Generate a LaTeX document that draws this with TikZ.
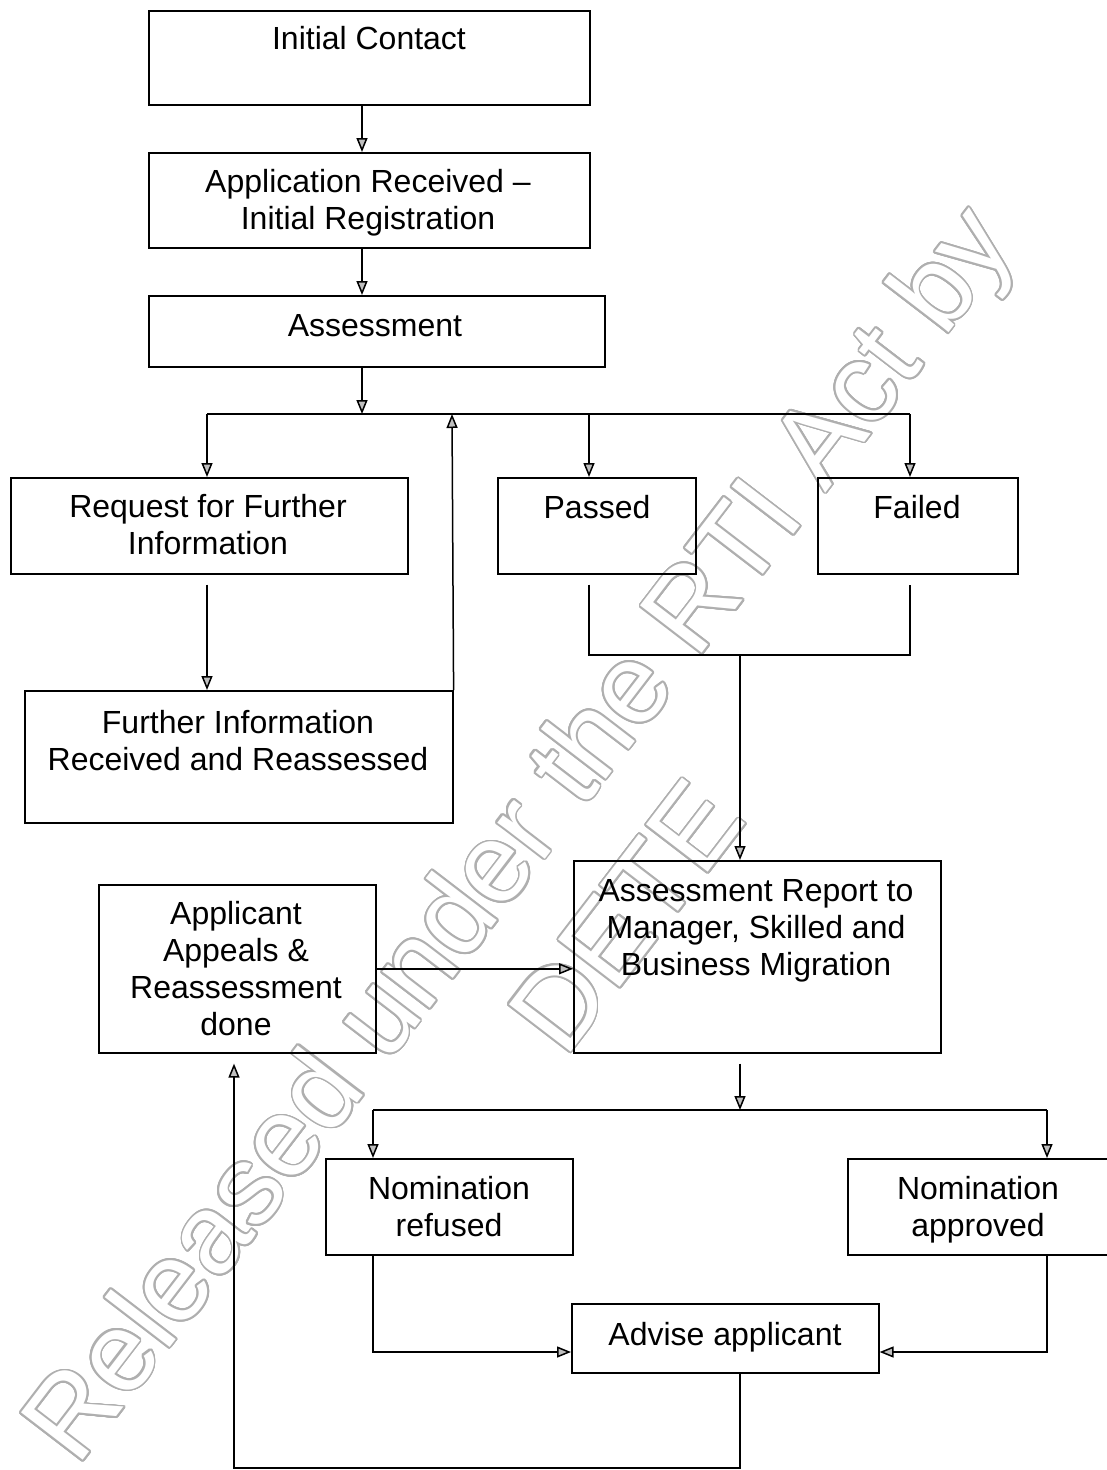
\documentclass[tikz,border=0pt]{standalone}
\usepackage{fontspec}
\setmainfont{Liberation Sans}
\usetikzlibrary{arrows.meta,calc}
\definecolor{wmgray}{RGB}{175,175,175}
\begin{document}
\begin{tikzpicture}[x=1pt,y=-1pt,
  box/.style={draw, line width=1.6pt, inner sep=0pt, anchor=north west},
  txt/.style={font=\fontsize{32}{36.8}\selectfont, align=center, inner sep=0pt, text height=23pt, text depth=7pt},
  ln/.style={line width=1.5pt},
  arr/.style={line width=1.5pt, -{Triangle[length=14pt,width=11pt,fill=gray!50]}},
  wm/.style={rotate=52.5, inner sep=0pt, font=\fontsize{113}{113}\selectfont}]
\useasboundingbox (0,0) rectangle (1107,1470);
% watermark (outlined text: gray copies around, white on top)
\coordinate (w1) at (524,838);
\coordinate (w2) at (626,916);
\foreach \a in {0,15,...,345} {
  \node[wm, text=wmgray] at ($(w1)+(\a:1.8pt)$) {Released under the RTI Act by};
  \node[wm, text=wmgray] at ($(w2)+(\a:1.8pt)$) {DETE};
}
\node[wm, text=white] (wm1) at (w1) {Released under the RTI Act by};
\node[wm, text=white] (wm2) at (w2) {DETE};
% boxes
\node[box, minimum width=441pt, minimum height=94pt] (ic) at (148,10) {};
\node[box, minimum width=441pt, minimum height=95pt] (ar) at (148,152) {};
\node[box, minimum width=456pt, minimum height=71pt] (as) at (148,295) {};
\node[box, minimum width=397pt, minimum height=96pt] (rq) at (10,477) {};
\node[box, minimum width=428pt, minimum height=132pt] (fi) at (24,690) {};
\node[box, minimum width=198pt, minimum height=96pt] (pa) at (497,477) {};
\node[box, minimum width=200pt, minimum height=96pt] (fa) at (817,477) {};
\node[box, minimum width=367pt, minimum height=192pt] (rp) at (573,860) {};
\node[box, minimum width=277pt, minimum height=168pt] (ap) at (98,884) {};
\node[box, minimum width=247pt, minimum height=96pt] (nr) at (325,1158) {};
\node[box, minimum width=260pt, minimum height=96pt] (na) at (847,1158) {};
\node[box, minimum width=307pt, minimum height=69pt] (ad) at (571,1303) {};
% texts
\node[txt] (ict) at (369,41) {Initial Contact};
\node[txt] (art) at (368,221) {Application Received --\\Initial Registration};
\node[txt] (ast) at (375,328) {Assessment};
\node[txt] (rqt) at (208,546) {Request for Further\\Information};
\node[txt] (fit) at (238,762) {Further Information\\Received and Reassessed};
\node[txt] (pat) at (597,510) {Passed};
\node[txt] (fat) at (917,510) {Failed};
\node[txt] (rpt) at (756,967) {Assessment Report to\\Manager, Skilled and\\Business Migration};
\node[txt] (apt) at (236,1027) {Applicant\\Appeals \&\\Reassessment\\done};
\node[txt] (nrt) at (449,1228) {Nomination\\refused};
\node[txt] (nat) at (978,1228) {Nomination\\approved};
\node[txt] (adt) at (725,1337) {Advise applicant};
% junction coordinates
\coordinate (k1) at (362,414);
\coordinate (kq) at (207,414);
\coordinate (kp) at (589,414);
\coordinate (kf) at (910,414);
\coordinate (kr) at (452,414);
\coordinate (m1) at (740,655);
\coordinate (k2) at (740,1110);
\coordinate (kn) at (373,1110);
\coordinate (ka) at (1047,1110);
\coordinate (r3) at (0,1352);
\coordinate (kb) at (234,1468);
% connectors
\draw[arr] (ic.south -| k1) -- (ar.north -| k1);
\draw[arr] (ar.south -| k1) -- (as.north -| k1);
\draw[arr] (as.south -| k1) -- (k1);
\draw[ln] (kq) -- (kf);
\draw[arr] (kq) -- (rq.north -| kq);
\draw[arr] (kp) -- (pa.north -| kp);
\draw[arr] (kf) -- (fa.north -| kf);
\draw[arr] ($(rq.south -| kq)+(0,10)$) -- (fi.north -| kq);
\draw[arr] (fi.north east) -- (kr);
\draw[ln] ($(pa.south -| kp)+(0,10)$) |- (m1 -| kf) -- ($(fa.south -| kf)+(0,10)$);
\draw[arr] (m1) -- (rp.north -| m1);
\draw[arr] (ap.east) -- (ap.east -| rp.west);
\draw[arr] ($(rp.south -| k2)+(0,10)$) -- (k2);
\draw[ln] (kn) -- (ka);
\draw[arr] (kn) -- (nr.north -| kn);
\draw[arr] (ka) -- (na.north -| ka);
\draw[arr] (nr.south -| kn) |- (ad.west |- r3);
\draw[arr] (na.south -| ka) |- (ad.east |- r3);
\draw[arr] (ad.south -| k2) |- (kb) -- ($(ap.south -| kb)+(0,10)$);
\end{tikzpicture}
\end{document}
